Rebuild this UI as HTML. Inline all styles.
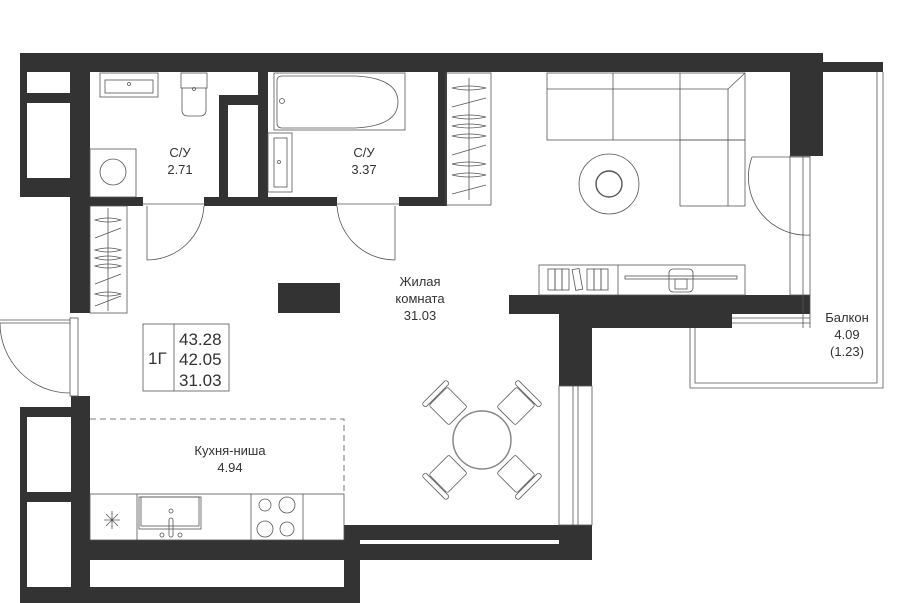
<!DOCTYPE html>
<html><head><meta charset="utf-8"><style>
html,body{margin:0;padding:0;background:#fff;}
svg{display:block;}
text{font-family:"Liberation Sans",sans-serif;fill:#333;}
</style></head><body>
<svg width="900" height="603" viewBox="0 0 900 603" xmlns="http://www.w3.org/2000/svg">
<g fill="#333">
<!-- top wall -->
<rect x="20" y="53" width="803" height="19"/>
<rect x="823" y="62" width="60" height="10"/>
<!-- left upper block -->
<rect x="20" y="53" width="70" height="144"/>
<rect x="70" y="72" width="20" height="241"/>
<!-- bathroom partitions -->
<rect x="219" y="95" width="39" height="10"/>
<rect x="219" y="95" width="9" height="111"/>
<rect x="258" y="72" width="10" height="134"/>
<rect x="438" y="72" width="9" height="134"/>
<rect x="70" y="197" width="73" height="9"/>
<rect x="204" y="197" width="133" height="9"/>
<rect x="399" y="197" width="48" height="9"/>
<!-- right upper wall -->
<rect x="790" y="53" width="33" height="103"/>
<!-- mid horizontal wall -->
<rect x="509" y="295" width="301" height="19"/>
<rect x="559" y="295" width="173" height="33"/>
<rect x="559" y="295" width="33" height="91"/>
<!-- column -->
<rect x="278" y="283" width="62" height="30"/>
<!-- left lower -->
<rect x="71" y="396" width="19" height="207"/>
<rect x="20" y="407" width="70" height="196"/>
<rect x="20" y="587" width="340" height="16"/>
<rect x="71" y="540" width="521" height="20"/>
<rect x="344" y="525" width="248" height="35"/>
<rect x="344" y="525" width="16" height="78"/>
</g>
<g fill="#fff">
<rect x="27" y="72" width="43" height="21"/>
<rect x="27" y="103" width="43" height="75"/>
<rect x="228" y="105" width="30" height="92"/>
<rect x="27" y="417" width="44" height="75"/>
<rect x="27" y="502" width="44" height="85"/>
<rect x="90" y="560" width="254" height="27"/>
<rect x="360" y="540" width="199" height="4"/>
</g>
<g fill="none" stroke="#555" stroke-width="0.8">
<!-- balcony -->
<polyline points="690,328 690,388 883,388 883,72"/>
<polyline points="695,328 695,383 877,383 877,72"/>
<line x1="732" y1="318" x2="810" y2="318"/>
<line x1="732" y1="323" x2="810" y2="323"/>
<rect x="790" y="156" width="20" height="139"/>
<line x1="803" y1="156" x2="803" y2="328"/>
<line x1="810" y1="295" x2="810" y2="328"/>
<!-- balcony door -->
<line x1="752" y1="157" x2="810" y2="157"/>
<path d="M752,157 A58,58 0 0 0 810,235"/>
<!-- right window -->
<rect x="559" y="386" width="33" height="139"/>
<line x1="573" y1="386" x2="573" y2="525"/>
<line x1="578" y1="386" x2="578" y2="525"/>
<!-- entrance door -->
<rect x="70" y="318" width="8" height="78"/>
<line x1="0" y1="320" x2="70" y2="320"/>
<line x1="0" y1="323" x2="70" y2="323"/>
<path d="M0,323 A70,70 0 0 0 70,393"/>
<!-- bathroom doors -->
<line x1="143" y1="204" x2="204" y2="204"/>
<line x1="147" y1="206" x2="147" y2="260"/>
<path d="M147,260 A57,57 0 0 0 204,206"/>
<line x1="337" y1="204" x2="399" y2="204"/>
<line x1="395" y1="206" x2="395" y2="260"/>
<path d="M395,260 A58,58 0 0 1 337,206"/>
<!-- sink -->
<rect x="100" y="73" width="58" height="24"/>
<rect x="105" y="80" width="48" height="13"/>
<circle cx="129" cy="84" r="1.5"/>
<!-- toilet -->
<rect x="181" y="73" width="26" height="15"/>
<path d="M182,88 L182,110 Q182,116 188,116 L200,116 Q206,116 206,110 L206,88"/>
<circle cx="194" cy="89" r="1.5"/>
<!-- washer -->
<rect x="90" y="149" width="46" height="48"/>
<circle cx="113" cy="172" r="13"/>
<!-- bathtub -->
<rect x="274" y="73" width="131" height="57"/>
<path d="M282,76 L355,76 Q398,78 398,102 Q398,126 355,128 L282,128 Q277,128 277,123 L277,81 Q277,76 282,76Z"/>
<circle cx="282" cy="101" r="2.5"/>
<!-- small sink -->
<rect x="268" y="133" width="24" height="59"/>
<rect x="274" y="138" width="13" height="49"/>
<circle cx="279" cy="162" r="1.5"/>
<!-- closets -->
<rect x="90" y="206" width="37" height="107"/>
<line x1="108" y1="208" x2="108" y2="311"/>
<rect x="446" y="73" width="45" height="132"/>
<line x1="469" y1="78" x2="469" y2="200"/>
<!-- sofa -->
<rect x="547" y="73" width="198" height="67"/>
<line x1="547" y1="89" x2="728" y2="89"/>
<line x1="613" y1="73" x2="613" y2="140"/>
<line x1="680" y1="73" x2="680" y2="140"/>
<line x1="728" y1="89" x2="728" y2="206"/>
<line x1="728" y1="89" x2="745" y2="73"/>
<rect x="680" y="140" width="65" height="66"/>
<!-- coffee table -->
<circle cx="609" cy="184" r="30"/>
<circle cx="609" cy="184" r="13" stroke-width="1.4"/>
<!-- tv unit -->
<rect x="539" y="265" width="206" height="30"/>
<line x1="618" y1="265" x2="618" y2="295"/>
<rect x="548" y="269" width="7" height="21"/>
<rect x="555" y="269" width="7" height="21"/>
<rect x="562" y="269" width="7" height="21"/>
<rect x="574" y="269" width="7" height="21" transform="rotate(-10 577 280)"/>
<rect x="587" y="269" width="7" height="21"/>
<rect x="594" y="269" width="7" height="21"/>
<rect x="601" y="269" width="7" height="21"/>
<rect x="625" y="276" width="112" height="3"/>
<rect x="669" y="269" width="24" height="23" rx="4"/>
<rect x="675" y="279" width="12" height="10"/>
<!-- dining -->
<circle cx="482" cy="440" r="29" stroke="#888" stroke-width="1.5"/>
<g transform="translate(482 440)">
<g transform="rotate(-45)"><rect x="-13" y="-62" width="26" height="28" rx="2"/><rect x="-17" y="-68" width="34" height="5" rx="2"/></g>
<g transform="rotate(45)"><rect x="-13" y="-62" width="26" height="28" rx="2"/><rect x="-17" y="-68" width="34" height="5" rx="2"/></g>
<g transform="rotate(135)"><rect x="-13" y="-62" width="26" height="28" rx="2"/><rect x="-17" y="-68" width="34" height="5" rx="2"/></g>
<g transform="rotate(225)"><rect x="-13" y="-62" width="26" height="28" rx="2"/><rect x="-17" y="-68" width="34" height="5" rx="2"/></g>
</g>
<!-- info box -->
<rect x="143" y="324" width="86" height="67"/>
<line x1="174" y1="324" x2="174" y2="391"/>
<!-- kitchen -->
<path d="M90,419 L344,419 L344,495" stroke-dasharray="6,4"/>
<rect x="90" y="494" width="254" height="46"/>
<line x1="137" y1="494" x2="137" y2="540"/>
<line x1="251" y1="494" x2="251" y2="540"/>
<line x1="303" y1="494" x2="303" y2="540"/>
<rect x="139" y="497" width="62" height="32"/>
<rect x="141" y="497" width="58" height="29"/>
<circle cx="171" cy="511" r="2"/>
<rect x="169" y="518" width="4" height="19" rx="2"/>
<circle cx="162" cy="535" r="2"/><circle cx="180" cy="535" r="2"/>
<circle cx="265" cy="505" r="6"/><circle cx="287" cy="505" r="8"/>
<circle cx="265" cy="529" r="8"/><circle cx="287" cy="529" r="7"/>
<path d="M104,520 L120,520 M112,511 L112,529 M106,514 L118,526 M118,514 L106,526"/>
</g>
<g stroke="#555" stroke-width="0.7" fill="none">
<path d="M95,220 Q108,216 121,220 Q108,224 95,220Z M95,238 L121,228 M95,250 Q108,246 121,250 Q108,254 95,250Z M95,258 Q108,254 121,258 Q108,262 95,258Z M95,266 Q108,262 121,266 Q108,270 95,266Z M95,284 L121,274 M95,294 Q108,290 121,294 Q108,298 95,294Z M95,306 L121,296"/>
<path d="M452,88 Q469,84 486,88 Q469,92 452,88Z M452,107 L486,98 M452,117 Q469,113 486,117 Q469,121 452,117Z M452,126 Q469,122 486,126 Q469,130 452,126Z M452,136 Q469,132 486,136 Q469,140 452,136Z M452,155 L486,145 M452,164 Q469,160 486,164 Q469,168 452,164Z M452,175 Q469,171 486,175 Q469,179 452,175Z M452,194 L486,185"/>
</g>
<g font-size="13" text-anchor="middle">
<text x="180" y="157">С/У</text><text x="180" y="174">2.71</text>
<text x="364" y="157">С/У</text><text x="364" y="174">3.37</text>
<text x="420" y="286">Жилая</text><text x="420" y="303">комната</text><text x="420" y="320">31.03</text>
<text x="847" y="322">Балкон</text><text x="847" y="339">4.09</text><text x="847" y="356">(1.23)</text>
<text x="230" y="455">Кухня-ниша</text><text x="230" y="472">4.94</text>
</g>
<g font-size="17">
<text x="148" y="364">1Г</text>
<text x="179" y="345">43.28</text>
<text x="179" y="365">42.05</text>
<text x="179" y="386">31.03</text>
</g>
</svg>
</body></html>
